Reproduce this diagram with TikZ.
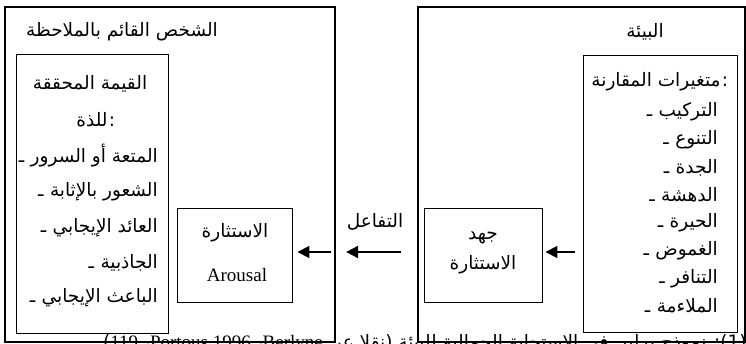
\documentclass[tikz,border=0pt]{standalone}
\usepackage{fontspec}
\setmainfont{Liberation Serif}
\newfontfamily\arabicfont[Script=Arabic]{DejaVu Sans}
\TeXXeTstate=1
\usetikzlibrary{arrows.meta}
\tikzset{
  outerbox/.style={draw, line width=2.2pt, inner sep=0pt},
  innerbox/.style={draw, line width=0.9pt, inner sep=0pt},
  ar/.style={font=\arabicfont\fontsize{18.5}{22}\selectfont, inner sep=0pt},
  lat/.style={font=\fontsize{19}{22}\selectfont, inner sep=0pt},
  arr/.style={line width=1.8pt, -{Triangle[length=12pt,width=12pt]}},
  listitem/.style={ar, anchor=east},
  dashmark/.style={ar, anchor=base east, xshift=-6pt}
}
\newcommand{\lt}[1]{\beginL{\rmfamily\fontsize{19}{22}\selectfont #1}\endL}
\begin{document}
\begin{tikzpicture}[x=1pt,y=-1pt]
\useasboundingbox (0,0) rectangle (746,344);
\clip (0,0) rectangle (746,344);
% caption (mostly hidden below the frame)
\node[ar, anchor=base west] (cap) at (103,348) {\beginR شكل (1): نموذج برلين في الاستجابة الجمالية للبيئة (نقلا عن \lt{Berlyne}، \lt{Portous 1996}، \lt{119})\endR};
% outer boxes
\node[outerbox, minimum width=330pt, minimum height=335pt] (outL) at (170,174.5) {};
\node[outerbox, minimum width=327pt, minimum height=335pt] (outR) at (581.5,174.5) {};
% inner boxes
\node[innerbox, minimum width=152pt, minimum height=279pt] (inL) at (92,193.5) {};
\node[innerbox, minimum width=154pt, minimum height=277pt] (inR) at (660,193.5) {};
\node[innerbox, minimum width=115pt, minimum height=94pt] (arous) at (234.5,255) {};
\node[innerbox, minimum width=118pt, minimum height=94pt] (jahd) at (483,255) {};
% titles
\node[ar] (tL) at (122,32) {\beginR الشخص القائم بالملاحظة\endR};
\node[ar] (tR) at (645,32) {\beginR البيئة\endR};
% left inner texts
\node[ar] (l1) at (90,84) {\beginR القيمة المحققة\endR};
\node[ar] (l2) at (92,120) {\beginR للذة\endR};
\node[ar, anchor=base west, xshift=1pt] (l2c) at (l2.base east) {:};
\node[listitem] (l3) at (158,156) {\beginR المتعة أو السرور\endR};
\node[listitem] (l4) at (158,192) {\beginR الشعور بالإثابة\endR};
\node[listitem] (l5) at (158,228) {\beginR العائد الإيجابي\endR};
\node[listitem] (l6) at (158,263) {\beginR الجاذبية\endR};
\node[listitem] (l7) at (158,298) {\beginR الباعث الإيجابي\endR};
\node[dashmark] (l3d) at (l3.base west) {ـ};
\node[dashmark] (l4d) at (l4.base west) {ـ};
\node[dashmark] (l5d) at (l5.base west) {ـ};
\node[dashmark] (l6d) at (l6.base west) {ـ};
\node[dashmark] (l7d) at (l7.base west) {ـ};
% right inner texts
\node[ar] (r0) at (656,82) {\beginR متغيرات المقارنة\endR};
\node[ar, anchor=base west, xshift=1pt] (r0c) at (r0.base east) {:};
\node[listitem] (r1) at (718,112) {\beginR التركيب\endR};
\node[listitem] (r2) at (718,140) {\beginR التنوع\endR};
\node[listitem] (r3) at (718,168) {\beginR الجدة\endR};
\node[listitem] (r4) at (718,195) {\beginR الدهشة\endR};
\node[listitem] (r5) at (718,223) {\beginR الحيرة\endR};
\node[listitem] (r6) at (718,251) {\beginR الغموض\endR};
\node[listitem] (r7) at (718,279) {\beginR التنافر\endR};
\node[listitem] (r8) at (718,306) {\beginR الملاءمة\endR};
\foreach \n in {r1,r2,r3,r4,r5,r6,r7,r8}{
  \node[dashmark] (\n d) at (\n.base west) {ـ};
}
% arousal box texts
\node[ar] (a1) at (235,233) {\beginR الاستثارة\endR};
\node[lat] (a2) at (237,275) {Arousal};
% jahd box texts
\node[ar] (j1) at (483,238) {\beginR جهد\endR};
\node[ar] (j2) at (483,265) {\beginR الاستثارة\endR};
% interaction label
\node[ar] (inter) at (375,222) {\beginR التفاعل\endR};
% arrows
\draw[arr, shorten <=8pt, shorten >=3pt] ([yshift=3pt]jahd.east -| inR.west) -- ([yshift=3pt]jahd.east);
\draw[arr, shorten <=16pt, shorten >=10pt] ([yshift=3pt]jahd.west -| outR.west) -- ([yshift=3pt]jahd.west -| outL.east);
\draw[arr, shorten <=5pt, shorten >=5pt] ([yshift=3pt]arous.east -| outL.east) -- ([yshift=3pt]arous.east);
\end{tikzpicture}
\end{document}
